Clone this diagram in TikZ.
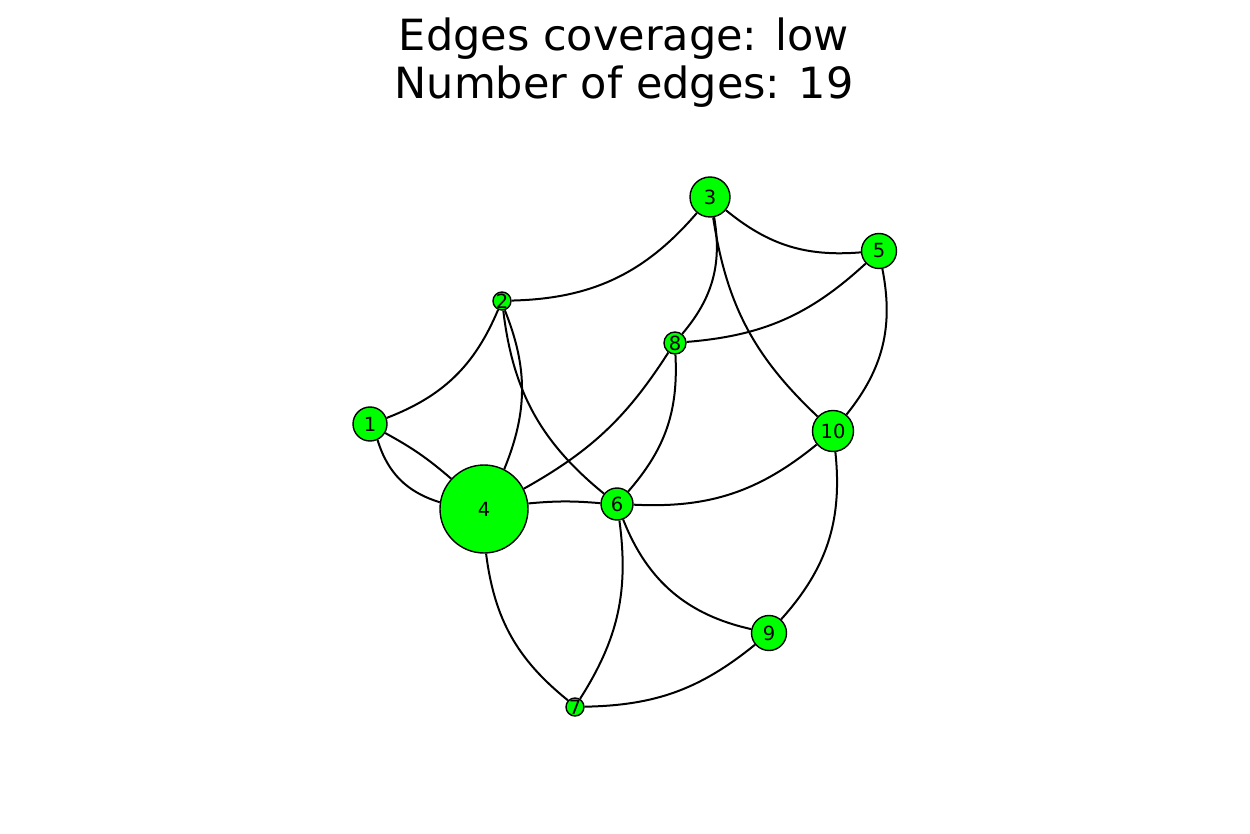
\documentclass[tikz,border=0pt]{standalone}
\usepackage{fontspec}
\setmainfont{DejaVu Sans}
\definecolor{vgreen}{RGB}{0,255,0}
\begin{document}
\begin{tikzpicture}[x=1pt,y=-1pt,
  vtx/.style={circle,draw=black,line width=1.4pt,fill=vgreen,inner sep=0pt,
    label={[font=\fontsize{19.5}{21}\selectfont,inner sep=0pt]center:#1}},
  edge/.style={draw=black,line width=2pt},
  ttl/.style={font=\fontsize{43}{48}\selectfont,align=center,inner sep=0pt}]
\useasboundingbox (0,0) rectangle (1250,834);
\node[ttl] (title) at (624,63) {Edges coverage: low\\Number of edges: 19};
\node[vtx=1, minimum size=34pt] (n1) at (370,424) {};
\node[vtx=2, minimum size=18pt] (n2) at (502,301) {};
\node[vtx=3, minimum size=40pt] (n3) at (710,197) {};
\node[vtx=4, minimum size=88pt] (n4) at (484,509) {};
\node[vtx=5, minimum size=35pt] (n5) at (879,251) {};
\node[vtx=6, minimum size=32pt] (n6) at (617,504) {};
\node[vtx=7, minimum size=18pt] (n7) at (575,707) {};
\node[vtx=8, minimum size=22pt] (n8) at (675,343) {};
\node[vtx=9, minimum size=35pt] (n9) at (769,633) {};
\node[vtx=10, minimum size=41pt] (n10) at (833,431) {};
\path[edge] (n1) to[bend right=23] (n2);
\path[edge] (n1) to[bend left=6] (n4);
\path[edge] (n1) to[bend right=28] (n4);
\path[edge] (n2) to[bend right=24] (n3);
\path[edge] (n2) to[bend left=22] (n4);
\path[edge] (n2) to[bend right=22] (n6);
\path[edge] (n3) to[bend right=22] (n5);
\path[edge] (n3) to[bend left=25] (n8);
\path[edge] (n3) to[bend right=19] (n10);
\path[edge] (n5) to[bend left=19] (n8);
\path[edge] (n5) to[bend left=25] (n10);
\path[edge] (n4) to[bend right=14] (n8);
\path[edge] (n4) to[bend left=5] (n6);
\path[edge] (n8) to[bend left=22] (n6);
\path[edge] (n6) to[bend right=21] (n10);
\path[edge] (n4) to[bend right=22] (n7);
\path[edge] (n6) to[bend left=20] (n7);
\path[edge] (n6) to[bend right=28] (n9);
\path[edge] (n9) to[bend right=24] (n10);
\path[edge] (n7) to[bend right=19] (n9);
\end{tikzpicture}
\end{document}
